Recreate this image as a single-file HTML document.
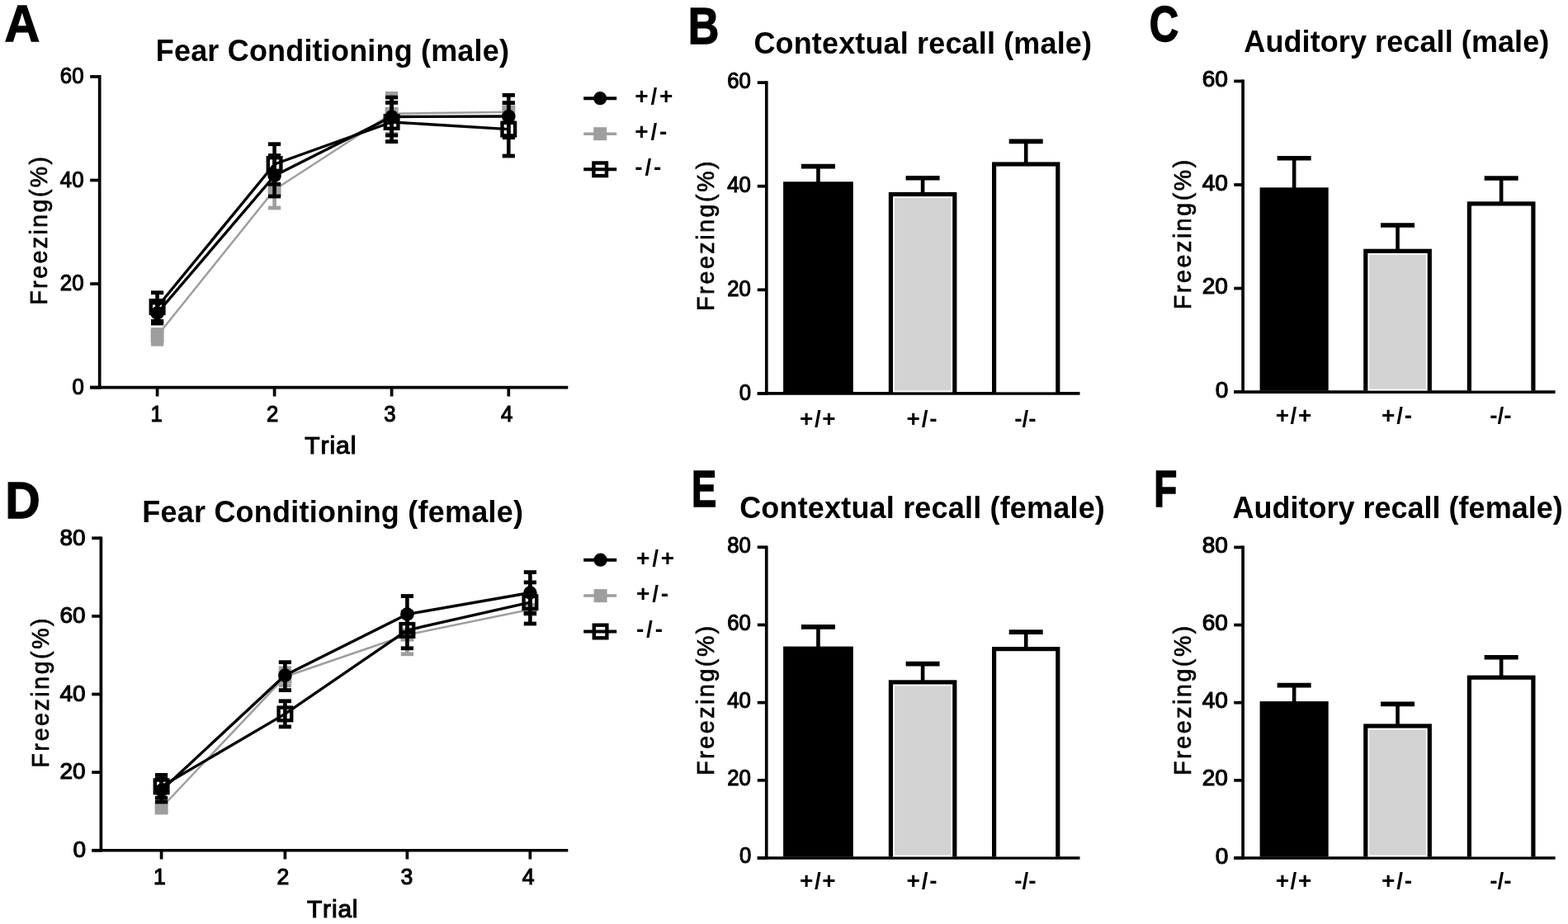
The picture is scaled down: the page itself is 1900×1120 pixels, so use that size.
<!DOCTYPE html>
<html><head><meta charset="utf-8"><title>Fear conditioning figure</title>
<style>
html,body{margin:0;padding:0;background:#fff;}
body{width:1900px;height:1120px;overflow:hidden;}
svg{display:block;}
text{font-family:"Liberation Sans",Arial,sans-serif;font-kerning:none;fill:#000;}
</style></head>
<body>
<svg width="1900" height="1120" viewBox="0 0 1900 1120">
<rect x="0" y="0" width="1900" height="1120" fill="#fff"/>
<text transform="translate(5.52 49.8) scale(0.95 1)" font-size="62.32" font-weight="bold" stroke="#000" stroke-width="1.27">A</text>
<text x="188.8" y="73.7" font-size="36" font-weight="bold" letter-spacing="0.18">Fear Conditioning (male)</text>
<line x1="120.7" y1="91.05" x2="120.7" y2="471.45" stroke="#000" stroke-width="3.7" stroke-linecap="butt"/>
<line x1="109.2" y1="469.6" x2="120.7" y2="469.6" stroke="#000" stroke-width="3.7" stroke-linecap="butt"/>
<text transform="translate(87.57 478.03) scale(0.92 1)" font-size="28" font-weight="normal" stroke="#000" stroke-width="1.15">0</text>
<line x1="109.2" y1="344.03" x2="120.7" y2="344.03" stroke="#000" stroke-width="3.7" stroke-linecap="butt"/>
<text transform="translate(72.85 352.46) scale(0.92 1)" font-size="28" font-weight="normal" stroke="#000" stroke-width="1.15">20</text>
<line x1="109.2" y1="218.47" x2="120.7" y2="218.47" stroke="#000" stroke-width="3.7" stroke-linecap="butt"/>
<text transform="translate(72.85 226.89) scale(0.92 1)" font-size="28" font-weight="normal" stroke="#000" stroke-width="1.15">40</text>
<line x1="109.2" y1="92.9" x2="120.7" y2="92.9" stroke="#000" stroke-width="3.7" stroke-linecap="butt"/>
<text transform="translate(72.85 101.32) scale(0.92 1)" font-size="28" font-weight="normal" stroke="#000" stroke-width="1.15">60</text>
<line x1="109.2" y1="469.6" x2="688.3" y2="469.6" stroke="#000" stroke-width="3.7" stroke-linecap="butt"/>
<line x1="190.6" y1="469.6" x2="190.6" y2="480.5" stroke="#000" stroke-width="3.7" stroke-linecap="butt"/>
<line x1="332.6" y1="469.6" x2="332.6" y2="480.5" stroke="#000" stroke-width="3.7" stroke-linecap="butt"/>
<line x1="474.6" y1="469.6" x2="474.6" y2="480.5" stroke="#000" stroke-width="3.7" stroke-linecap="butt"/>
<line x1="616.3" y1="469.6" x2="616.3" y2="480.5" stroke="#000" stroke-width="3.7" stroke-linecap="butt"/>
<text transform="translate(182.39 511.32) scale(0.92 1)" font-size="28" font-weight="normal" stroke="#000" stroke-width="1.15">1</text>
<text transform="translate(323.1 511.32) scale(0.92 1)" font-size="28" font-weight="normal" stroke="#000" stroke-width="1.15">2</text>
<text transform="translate(465.15 511.32) scale(0.92 1)" font-size="28" font-weight="normal" stroke="#000" stroke-width="1.15">3</text>
<text transform="translate(607 511.32) scale(0.92 1)" font-size="28" font-weight="normal" stroke="#000" stroke-width="1.15">4</text>
<text x="369.18" y="550.32" font-size="30" font-weight="normal" letter-spacing="0.99" stroke="#000" stroke-width="1.15">Trial</text>
<text transform="translate(56.95 369.55) rotate(-90) scale(1 1.03)" font-size="28.5" font-weight="normal" letter-spacing="2.45" stroke="#000" stroke-width="0.7">Freezing(%)</text>
<polyline points="190.6,407 332.6,230 474.6,137.8 616.3,135.8" fill="none" stroke="#9e9e9e" stroke-width="2.5" stroke-linejoin="round"/>
<line x1="190.6" y1="399.5" x2="190.6" y2="417.2" stroke="#9e9e9e" stroke-width="4.6" stroke-linecap="butt"/>
<line x1="183" y1="399.5" x2="198.2" y2="399.5" stroke="#9e9e9e" stroke-width="4.8" stroke-linecap="butt"/>
<line x1="183" y1="417.2" x2="198.2" y2="417.2" stroke="#9e9e9e" stroke-width="4.8" stroke-linecap="butt"/>
<line x1="332.6" y1="208" x2="332.6" y2="252" stroke="#9e9e9e" stroke-width="4.6" stroke-linecap="butt"/>
<line x1="325" y1="208" x2="340.2" y2="208" stroke="#9e9e9e" stroke-width="4.8" stroke-linecap="butt"/>
<line x1="325" y1="252" x2="340.2" y2="252" stroke="#9e9e9e" stroke-width="4.8" stroke-linecap="butt"/>
<line x1="474.6" y1="113.3" x2="474.6" y2="162.3" stroke="#9e9e9e" stroke-width="4.6" stroke-linecap="butt"/>
<line x1="467" y1="113.3" x2="482.2" y2="113.3" stroke="#9e9e9e" stroke-width="4.8" stroke-linecap="butt"/>
<line x1="467" y1="162.3" x2="482.2" y2="162.3" stroke="#9e9e9e" stroke-width="4.8" stroke-linecap="butt"/>
<line x1="616.3" y1="124.8" x2="616.3" y2="146.8" stroke="#9e9e9e" stroke-width="4.6" stroke-linecap="butt"/>
<line x1="608.7" y1="124.8" x2="623.9" y2="124.8" stroke="#9e9e9e" stroke-width="4.8" stroke-linecap="butt"/>
<line x1="608.7" y1="146.8" x2="623.9" y2="146.8" stroke="#9e9e9e" stroke-width="4.8" stroke-linecap="butt"/>
<rect x="182.6" y="399" width="16" height="16" fill="#9e9e9e"/>
<rect x="324.6" y="222" width="16" height="16" fill="#9e9e9e"/>
<rect x="466.6" y="129.8" width="16" height="16" fill="#9e9e9e"/>
<rect x="608.3" y="127.8" width="16" height="16" fill="#9e9e9e"/>
<polyline points="190.6,379.5 332.6,213 474.6,141.5 616.3,141" fill="none" stroke="#000" stroke-width="3.4" stroke-linejoin="round"/>
<line x1="190.6" y1="367" x2="190.6" y2="392" stroke="#000" stroke-width="4.6" stroke-linecap="butt"/>
<line x1="183" y1="367" x2="198.2" y2="367" stroke="#000" stroke-width="4.8" stroke-linecap="butt"/>
<line x1="183" y1="392" x2="198.2" y2="392" stroke="#000" stroke-width="4.8" stroke-linecap="butt"/>
<line x1="332.6" y1="188.5" x2="332.6" y2="238" stroke="#000" stroke-width="4.6" stroke-linecap="butt"/>
<line x1="325" y1="188.5" x2="340.2" y2="188.5" stroke="#000" stroke-width="4.8" stroke-linecap="butt"/>
<line x1="325" y1="238" x2="340.2" y2="238" stroke="#000" stroke-width="4.8" stroke-linecap="butt"/>
<line x1="474.6" y1="118" x2="474.6" y2="164" stroke="#000" stroke-width="4.6" stroke-linecap="butt"/>
<line x1="467" y1="118" x2="482.2" y2="118" stroke="#000" stroke-width="4.8" stroke-linecap="butt"/>
<line x1="467" y1="164" x2="482.2" y2="164" stroke="#000" stroke-width="4.8" stroke-linecap="butt"/>
<line x1="616.3" y1="115.3" x2="616.3" y2="166.7" stroke="#000" stroke-width="4.6" stroke-linecap="butt"/>
<line x1="608.7" y1="115.3" x2="623.9" y2="115.3" stroke="#000" stroke-width="4.8" stroke-linecap="butt"/>
<line x1="608.7" y1="166.7" x2="623.9" y2="166.7" stroke="#000" stroke-width="4.8" stroke-linecap="butt"/>
<circle cx="190.6" cy="379.5" r="8.3" fill="#000"/>
<circle cx="332.6" cy="213" r="8.3" fill="#000"/>
<circle cx="474.6" cy="141.5" r="8.3" fill="#000"/>
<circle cx="616.3" cy="141" r="8.3" fill="#000"/>
<polyline points="190.6,372 332.6,199 474.6,148 616.3,156.6" fill="none" stroke="#000" stroke-width="3.4" stroke-linejoin="round"/>
<line x1="190.6" y1="354.7" x2="190.6" y2="389.3" stroke="#000" stroke-width="4.6" stroke-linecap="butt"/>
<line x1="183" y1="354.7" x2="198.2" y2="354.7" stroke="#000" stroke-width="4.8" stroke-linecap="butt"/>
<line x1="183" y1="389.3" x2="198.2" y2="389.3" stroke="#000" stroke-width="4.8" stroke-linecap="butt"/>
<line x1="332.6" y1="174.7" x2="332.6" y2="223.3" stroke="#000" stroke-width="4.6" stroke-linecap="butt"/>
<line x1="325" y1="174.7" x2="340.2" y2="174.7" stroke="#000" stroke-width="4.8" stroke-linecap="butt"/>
<line x1="325" y1="223.3" x2="340.2" y2="223.3" stroke="#000" stroke-width="4.8" stroke-linecap="butt"/>
<line x1="474.6" y1="124.4" x2="474.6" y2="171.6" stroke="#000" stroke-width="4.6" stroke-linecap="butt"/>
<line x1="467" y1="124.4" x2="482.2" y2="124.4" stroke="#000" stroke-width="4.8" stroke-linecap="butt"/>
<line x1="467" y1="171.6" x2="482.2" y2="171.6" stroke="#000" stroke-width="4.8" stroke-linecap="butt"/>
<line x1="616.3" y1="124.7" x2="616.3" y2="189" stroke="#000" stroke-width="4.6" stroke-linecap="butt"/>
<line x1="608.7" y1="124.7" x2="623.9" y2="124.7" stroke="#000" stroke-width="4.8" stroke-linecap="butt"/>
<line x1="608.7" y1="189" x2="623.9" y2="189" stroke="#000" stroke-width="4.8" stroke-linecap="butt"/>
<rect x="182.8" y="364.2" width="15.6" height="15.6" fill="none" stroke="#000" stroke-width="4.4"/>
<rect x="324.8" y="191.2" width="15.6" height="15.6" fill="none" stroke="#000" stroke-width="4.4"/>
<rect x="466.8" y="140.2" width="15.6" height="15.6" fill="none" stroke="#000" stroke-width="4.4"/>
<rect x="608.5" y="148.8" width="15.6" height="15.6" fill="none" stroke="#000" stroke-width="4.4"/>
<line x1="707.2" y1="119.2" x2="747.2" y2="119.2" stroke="#000" stroke-width="4" stroke-linecap="butt"/>
<circle cx="727.2" cy="119.2" r="8.1" fill="#000"/>
<line x1="707.2" y1="162.2" x2="747.2" y2="162.2" stroke="#9e9e9e" stroke-width="3.5" stroke-linecap="butt"/>
<rect x="719.2" y="154.2" width="16" height="16" fill="#9e9e9e"/>
<line x1="707.2" y1="205.3" x2="747.2" y2="205.3" stroke="#000" stroke-width="4" stroke-linecap="butt"/>
<rect x="719.4" y="197.5" width="15.6" height="15.6" fill="none" stroke="#000" stroke-width="4.4"/>
<text x="769.2" y="126" font-size="28" font-weight="bold" letter-spacing="2.9">+/+</text>
<text x="769.2" y="169" font-size="28" font-weight="bold" letter-spacing="2.9">+/-</text>
<text x="769.2" y="212.1" font-size="28" font-weight="bold" letter-spacing="2.9">-/-</text>
<text transform="translate(6.16 627.8) scale(0.94 1)" font-size="62.61" font-weight="bold" stroke="#000" stroke-width="1.27">D</text>
<text x="172.2" y="633.2" font-size="36" font-weight="bold" letter-spacing="0.23">Fear Conditioning (female)</text>
<line x1="122.4" y1="650.4" x2="122.4" y2="1032.6" stroke="#000" stroke-width="3.7" stroke-linecap="butt"/>
<line x1="111.25" y1="1030.75" x2="122.4" y2="1030.75" stroke="#000" stroke-width="3.7" stroke-linecap="butt"/>
<text x="88.42" y="1038.92" font-size="28" font-weight="normal" stroke="#000" stroke-width="1.15">0</text>
<line x1="111.25" y1="936.12" x2="122.4" y2="936.12" stroke="#000" stroke-width="3.7" stroke-linecap="butt"/>
<text x="72.42" y="944.36" font-size="28" font-weight="normal" stroke="#000" stroke-width="1.15">20</text>
<line x1="111.25" y1="841.5" x2="122.4" y2="841.5" stroke="#000" stroke-width="3.7" stroke-linecap="butt"/>
<text x="72.42" y="849.8" font-size="28" font-weight="normal" stroke="#000" stroke-width="1.15">40</text>
<line x1="111.25" y1="746.88" x2="122.4" y2="746.88" stroke="#000" stroke-width="3.7" stroke-linecap="butt"/>
<text x="72.42" y="755.24" font-size="28" font-weight="normal" stroke="#000" stroke-width="1.15">60</text>
<line x1="111.25" y1="652.25" x2="122.4" y2="652.25" stroke="#000" stroke-width="3.7" stroke-linecap="butt"/>
<text x="72.42" y="660.67" font-size="28" font-weight="normal" stroke="#000" stroke-width="1.15">80</text>
<line x1="111.25" y1="1030.75" x2="688.3" y2="1030.75" stroke="#000" stroke-width="3.7" stroke-linecap="butt"/>
<line x1="195.6" y1="1030.75" x2="195.6" y2="1041.5" stroke="#000" stroke-width="3.7" stroke-linecap="butt"/>
<line x1="345.4" y1="1030.75" x2="345.4" y2="1041.5" stroke="#000" stroke-width="3.7" stroke-linecap="butt"/>
<line x1="493.4" y1="1030.75" x2="493.4" y2="1041.5" stroke="#000" stroke-width="3.7" stroke-linecap="butt"/>
<line x1="642.4" y1="1030.75" x2="642.4" y2="1041.5" stroke="#000" stroke-width="3.7" stroke-linecap="butt"/>
<text transform="translate(185.9 1072.42) scale(0.95 1)" font-size="28" font-weight="normal" stroke="#000" stroke-width="1.15">1</text>
<text transform="translate(335.57 1072.42) scale(0.95 1)" font-size="28" font-weight="normal" stroke="#000" stroke-width="1.15">2</text>
<text transform="translate(485.38 1072.42) scale(0.95 1)" font-size="28" font-weight="normal" stroke="#000" stroke-width="1.15">3</text>
<text transform="translate(632.77 1072.42) scale(0.95 1)" font-size="28" font-weight="normal" stroke="#000" stroke-width="1.15">4</text>
<text x="371.97" y="1112.02" font-size="30" font-weight="normal" letter-spacing="0.81" stroke="#000" stroke-width="1.15">Trial</text>
<text transform="translate(59.05 930.4) rotate(-90) scale(1 1.03)" font-size="28.5" font-weight="normal" letter-spacing="2.58" stroke="#000" stroke-width="0.7">Freezing(%)</text>
<polyline points="195.6,979 345.4,820.3 493.4,769.5 642.4,738.8" fill="none" stroke="#9e9e9e" stroke-width="2.5" stroke-linejoin="round"/>
<line x1="195.6" y1="973" x2="195.6" y2="985" stroke="#9e9e9e" stroke-width="4.6" stroke-linecap="butt"/>
<line x1="188" y1="973" x2="203.2" y2="973" stroke="#9e9e9e" stroke-width="4.8" stroke-linecap="butt"/>
<line x1="188" y1="985" x2="203.2" y2="985" stroke="#9e9e9e" stroke-width="4.8" stroke-linecap="butt"/>
<line x1="345.4" y1="809.8" x2="345.4" y2="830.8" stroke="#9e9e9e" stroke-width="4.6" stroke-linecap="butt"/>
<line x1="337.8" y1="809.8" x2="353" y2="809.8" stroke="#9e9e9e" stroke-width="4.8" stroke-linecap="butt"/>
<line x1="337.8" y1="830.8" x2="353" y2="830.8" stroke="#9e9e9e" stroke-width="4.8" stroke-linecap="butt"/>
<line x1="493.4" y1="746.2" x2="493.4" y2="792.8" stroke="#9e9e9e" stroke-width="4.6" stroke-linecap="butt"/>
<line x1="485.8" y1="746.2" x2="501" y2="746.2" stroke="#9e9e9e" stroke-width="4.8" stroke-linecap="butt"/>
<line x1="485.8" y1="792.8" x2="501" y2="792.8" stroke="#9e9e9e" stroke-width="4.8" stroke-linecap="butt"/>
<line x1="642.4" y1="733.8" x2="642.4" y2="743.8" stroke="#9e9e9e" stroke-width="4.6" stroke-linecap="butt"/>
<line x1="634.8" y1="733.8" x2="650" y2="733.8" stroke="#9e9e9e" stroke-width="4.8" stroke-linecap="butt"/>
<line x1="634.8" y1="743.8" x2="650" y2="743.8" stroke="#9e9e9e" stroke-width="4.8" stroke-linecap="butt"/>
<rect x="187.6" y="971" width="16" height="16" fill="#9e9e9e"/>
<rect x="337.4" y="812.3" width="16" height="16" fill="#9e9e9e"/>
<rect x="485.4" y="761.5" width="16" height="16" fill="#9e9e9e"/>
<rect x="634.4" y="730.8" width="16" height="16" fill="#9e9e9e"/>
<polyline points="195.6,958 345.4,818.6 493.4,744.5 642.4,718.5" fill="none" stroke="#000" stroke-width="3.4" stroke-linejoin="round"/>
<line x1="195.6" y1="944" x2="195.6" y2="972" stroke="#000" stroke-width="4.6" stroke-linecap="butt"/>
<line x1="188" y1="944" x2="203.2" y2="944" stroke="#000" stroke-width="4.8" stroke-linecap="butt"/>
<line x1="188" y1="972" x2="203.2" y2="972" stroke="#000" stroke-width="4.8" stroke-linecap="butt"/>
<line x1="345.4" y1="802.7" x2="345.4" y2="836.6" stroke="#000" stroke-width="4.6" stroke-linecap="butt"/>
<line x1="337.8" y1="802.7" x2="353" y2="802.7" stroke="#000" stroke-width="4.8" stroke-linecap="butt"/>
<line x1="337.8" y1="836.6" x2="353" y2="836.6" stroke="#000" stroke-width="4.8" stroke-linecap="butt"/>
<line x1="493.4" y1="722.5" x2="493.4" y2="766.5" stroke="#000" stroke-width="4.6" stroke-linecap="butt"/>
<line x1="485.8" y1="722.5" x2="501" y2="722.5" stroke="#000" stroke-width="4.8" stroke-linecap="butt"/>
<line x1="485.8" y1="766.5" x2="501" y2="766.5" stroke="#000" stroke-width="4.8" stroke-linecap="butt"/>
<line x1="642.4" y1="693.6" x2="642.4" y2="743.4" stroke="#000" stroke-width="4.6" stroke-linecap="butt"/>
<line x1="634.8" y1="693.6" x2="650" y2="693.6" stroke="#000" stroke-width="4.8" stroke-linecap="butt"/>
<line x1="634.8" y1="743.4" x2="650" y2="743.4" stroke="#000" stroke-width="4.8" stroke-linecap="butt"/>
<circle cx="195.6" cy="958" r="8.3" fill="#000"/>
<circle cx="345.4" cy="818.6" r="8.3" fill="#000"/>
<circle cx="493.4" cy="744.5" r="8.3" fill="#000"/>
<circle cx="642.4" cy="718.5" r="8.3" fill="#000"/>
<polyline points="195.6,953.3 345.4,865.4 493.4,763.9 642.4,730.2" fill="none" stroke="#000" stroke-width="3.4" stroke-linejoin="round"/>
<line x1="195.6" y1="939.4" x2="195.6" y2="967.2" stroke="#000" stroke-width="4.6" stroke-linecap="butt"/>
<line x1="188" y1="939.4" x2="203.2" y2="939.4" stroke="#000" stroke-width="4.8" stroke-linecap="butt"/>
<line x1="188" y1="967.2" x2="203.2" y2="967.2" stroke="#000" stroke-width="4.8" stroke-linecap="butt"/>
<line x1="345.4" y1="849.8" x2="345.4" y2="880.9" stroke="#000" stroke-width="4.6" stroke-linecap="butt"/>
<line x1="337.8" y1="849.8" x2="353" y2="849.8" stroke="#000" stroke-width="4.8" stroke-linecap="butt"/>
<line x1="337.8" y1="880.9" x2="353" y2="880.9" stroke="#000" stroke-width="4.8" stroke-linecap="butt"/>
<line x1="493.4" y1="742" x2="493.4" y2="785.8" stroke="#000" stroke-width="4.6" stroke-linecap="butt"/>
<line x1="485.8" y1="742" x2="501" y2="742" stroke="#000" stroke-width="4.8" stroke-linecap="butt"/>
<line x1="485.8" y1="785.8" x2="501" y2="785.8" stroke="#000" stroke-width="4.8" stroke-linecap="butt"/>
<line x1="642.4" y1="705.9" x2="642.4" y2="756" stroke="#000" stroke-width="4.6" stroke-linecap="butt"/>
<line x1="634.8" y1="705.9" x2="650" y2="705.9" stroke="#000" stroke-width="4.8" stroke-linecap="butt"/>
<line x1="634.8" y1="756" x2="650" y2="756" stroke="#000" stroke-width="4.8" stroke-linecap="butt"/>
<rect x="187.8" y="945.5" width="15.6" height="15.6" fill="none" stroke="#000" stroke-width="4.4"/>
<rect x="337.6" y="857.6" width="15.6" height="15.6" fill="none" stroke="#000" stroke-width="4.4"/>
<rect x="485.6" y="756.1" width="15.6" height="15.6" fill="none" stroke="#000" stroke-width="4.4"/>
<rect x="634.6" y="722.4" width="15.6" height="15.6" fill="none" stroke="#000" stroke-width="4.4"/>
<line x1="707.2" y1="678.7" x2="747.2" y2="678.7" stroke="#000" stroke-width="4" stroke-linecap="butt"/>
<circle cx="727.6" cy="678.7" r="8.1" fill="#000"/>
<line x1="707.2" y1="722.1" x2="747.2" y2="722.1" stroke="#9e9e9e" stroke-width="3.5" stroke-linecap="butt"/>
<rect x="719.6" y="714.1" width="16" height="16" fill="#9e9e9e"/>
<line x1="707.2" y1="765.5" x2="747.2" y2="765.5" stroke="#000" stroke-width="4" stroke-linecap="butt"/>
<rect x="719.8" y="757.7" width="15.6" height="15.6" fill="none" stroke="#000" stroke-width="4.4"/>
<text x="770.9" y="685.5" font-size="28" font-weight="bold" letter-spacing="2.9">+/+</text>
<text x="770.9" y="728.9" font-size="28" font-weight="bold" letter-spacing="2.9">+/-</text>
<text x="770.9" y="772.3" font-size="28" font-weight="bold" letter-spacing="2.9">-/-</text>
<text transform="translate(833.81 53.3) scale(0.84 1)" font-size="62.03" font-weight="bold" stroke="#000" stroke-width="1.43">B</text>
<text x="913.4" y="64.8" font-size="36" font-weight="bold" letter-spacing="0.15">Contextual recall (male)</text>
<line x1="928.8" y1="98.25" x2="928.8" y2="478.75" stroke="#000" stroke-width="3.7" stroke-linecap="butt"/>
<line x1="917.75" y1="476.9" x2="928.8" y2="476.9" stroke="#000" stroke-width="3.7" stroke-linecap="butt"/>
<text transform="translate(895.87 485.18) scale(0.92 1)" font-size="28" font-weight="normal" stroke="#000" stroke-width="1.15">0</text>
<line x1="917.75" y1="351.3" x2="928.8" y2="351.3" stroke="#000" stroke-width="3.7" stroke-linecap="butt"/>
<text transform="translate(881.15 359.09) scale(0.92 1)" font-size="28" font-weight="normal" stroke="#000" stroke-width="1.15">20</text>
<line x1="917.75" y1="225.7" x2="928.8" y2="225.7" stroke="#000" stroke-width="3.7" stroke-linecap="butt"/>
<text transform="translate(881.15 233.01) scale(0.92 1)" font-size="28" font-weight="normal" stroke="#000" stroke-width="1.15">40</text>
<line x1="917.75" y1="100.1" x2="928.8" y2="100.1" stroke="#000" stroke-width="3.7" stroke-linecap="butt"/>
<text transform="translate(881.15 106.93) scale(0.92 1)" font-size="28" font-weight="normal" stroke="#000" stroke-width="1.15">60</text>
<line x1="917.75" y1="476.9" x2="1308.5" y2="476.9" stroke="#000" stroke-width="3.7" stroke-linecap="butt"/>
<text transform="translate(865.35 376.65) rotate(-90) scale(1 1.03)" font-size="28.5" font-weight="normal" letter-spacing="2.61" stroke="#000" stroke-width="0.7">Freezing(%)</text>
<rect x="949.1" y="220.25" width="84.7" height="255.1" fill="#000"/>
<rect x="1076.8" y="232.9" width="82.6" height="242.45" fill="#000"/>
<rect x="1082" y="238.1" width="72.2" height="237.25" fill="#fff"/>
<rect x="1083.8" y="239.9" width="68.6" height="233.65" fill="#d3d3d3"/>
<rect x="1202" y="196.4" width="82.4" height="278.95" fill="#000"/>
<rect x="1207.2" y="201.6" width="72" height="273.75" fill="#fff"/>
<line x1="991.45" y1="221.25" x2="991.45" y2="201.6" stroke="#000" stroke-width="4.6" stroke-linecap="butt"/>
<line x1="970.95" y1="201.6" x2="1011.95" y2="201.6" stroke="#000" stroke-width="5.6" stroke-linecap="butt"/>
<line x1="1118.1" y1="233.9" x2="1118.1" y2="215.7" stroke="#000" stroke-width="4.6" stroke-linecap="butt"/>
<line x1="1097.6" y1="215.7" x2="1138.6" y2="215.7" stroke="#000" stroke-width="5.6" stroke-linecap="butt"/>
<line x1="1243.2" y1="197.4" x2="1243.2" y2="171.4" stroke="#000" stroke-width="4.6" stroke-linecap="butt"/>
<line x1="1222.7" y1="171.4" x2="1263.7" y2="171.4" stroke="#000" stroke-width="5.6" stroke-linecap="butt"/>
<text x="968.95" y="516.8" font-size="28" font-weight="bold" letter-spacing="1.6">+/+</text>
<text x="1098.6" y="516.8" font-size="28" font-weight="bold" letter-spacing="1.8">+/-</text>
<text x="1229.2" y="516.8" font-size="28" font-weight="bold">-/-</text>
<text transform="translate(1392.85 50.18) scale(0.79 1)" font-size="61.97" font-weight="bold" stroke="#000" stroke-width="1.52">C</text>
<text x="1507.3" y="63.4" font-size="36" font-weight="bold" letter-spacing="0.09">Auditory recall (male)</text>
<line x1="1506.1" y1="96.55" x2="1506.1" y2="476.95" stroke="#000" stroke-width="3.7" stroke-linecap="butt"/>
<line x1="1495.25" y1="475.1" x2="1506.1" y2="475.1" stroke="#000" stroke-width="3.7" stroke-linecap="butt"/>
<text x="1472.72" y="481.68" font-size="28" font-weight="normal" stroke="#000" stroke-width="1.15">0</text>
<line x1="1495.25" y1="349.53" x2="1506.1" y2="349.53" stroke="#000" stroke-width="3.7" stroke-linecap="butt"/>
<text x="1456.72" y="356.18" font-size="28" font-weight="normal" stroke="#000" stroke-width="1.15">20</text>
<line x1="1495.25" y1="223.97" x2="1506.1" y2="223.97" stroke="#000" stroke-width="3.7" stroke-linecap="butt"/>
<text x="1456.72" y="230.68" font-size="28" font-weight="normal" stroke="#000" stroke-width="1.15">40</text>
<line x1="1495.25" y1="98.4" x2="1506.1" y2="98.4" stroke="#000" stroke-width="3.7" stroke-linecap="butt"/>
<text x="1456.72" y="105.17" font-size="28" font-weight="normal" stroke="#000" stroke-width="1.15">60</text>
<line x1="1495.25" y1="475.1" x2="1884.6" y2="475.1" stroke="#000" stroke-width="3.7" stroke-linecap="butt"/>
<text transform="translate(1443.05 375.05) rotate(-90) scale(1 1.03)" font-size="28.5" font-weight="normal" letter-spacing="2.62" stroke="#000" stroke-width="0.7">Freezing(%)</text>
<rect x="1526.6" y="227.3" width="83.1" height="246.25" fill="#000"/>
<rect x="1652.2" y="301.7" width="82.7" height="171.85" fill="#000"/>
<rect x="1657.4" y="306.9" width="72.3" height="166.65" fill="#fff"/>
<rect x="1659.2" y="308.7" width="68.7" height="163.05" fill="#d3d3d3"/>
<rect x="1777.8" y="244.3" width="82.7" height="229.25" fill="#000"/>
<rect x="1783" y="249.5" width="72.3" height="224.05" fill="#fff"/>
<line x1="1568.15" y1="228.3" x2="1568.15" y2="191.7" stroke="#000" stroke-width="4.6" stroke-linecap="butt"/>
<line x1="1547.65" y1="191.7" x2="1588.65" y2="191.7" stroke="#000" stroke-width="5.6" stroke-linecap="butt"/>
<line x1="1693.55" y1="302.7" x2="1693.55" y2="273" stroke="#000" stroke-width="4.6" stroke-linecap="butt"/>
<line x1="1673.05" y1="273" x2="1714.05" y2="273" stroke="#000" stroke-width="5.6" stroke-linecap="butt"/>
<line x1="1819.15" y1="245.3" x2="1819.15" y2="216" stroke="#000" stroke-width="4.6" stroke-linecap="butt"/>
<line x1="1798.65" y1="216" x2="1839.65" y2="216" stroke="#000" stroke-width="5.6" stroke-linecap="butt"/>
<text x="1545.65" y="513" font-size="28" font-weight="bold" letter-spacing="1.6">+/+</text>
<text x="1674.05" y="513" font-size="28" font-weight="bold" letter-spacing="1.8">+/-</text>
<text x="1805.15" y="513" font-size="28" font-weight="bold">-/-</text>
<text transform="translate(837.94 614.2) scale(0.72 1)" font-size="62.9" font-weight="bold" stroke="#000" stroke-width="1.66">E</text>
<text x="896.2" y="627.9" font-size="36" font-weight="bold" letter-spacing="0.18">Contextual recall (female)</text>
<line x1="928.75" y1="661.4" x2="928.75" y2="1041.85" stroke="#000" stroke-width="3.7" stroke-linecap="butt"/>
<line x1="917.75" y1="1040" x2="928.75" y2="1040" stroke="#000" stroke-width="3.7" stroke-linecap="butt"/>
<text transform="translate(895.97 1046.42) scale(0.92 1)" font-size="28" font-weight="normal" stroke="#000" stroke-width="1.15">0</text>
<line x1="917.75" y1="945.81" x2="928.75" y2="945.81" stroke="#000" stroke-width="3.7" stroke-linecap="butt"/>
<text transform="translate(881.25 952.3) scale(0.92 1)" font-size="28" font-weight="normal" stroke="#000" stroke-width="1.15">20</text>
<line x1="917.75" y1="851.62" x2="928.75" y2="851.62" stroke="#000" stroke-width="3.7" stroke-linecap="butt"/>
<text transform="translate(881.25 858.17) scale(0.92 1)" font-size="28" font-weight="normal" stroke="#000" stroke-width="1.15">40</text>
<line x1="917.75" y1="757.44" x2="928.75" y2="757.44" stroke="#000" stroke-width="3.7" stroke-linecap="butt"/>
<text transform="translate(881.25 764.05) scale(0.92 1)" font-size="28" font-weight="normal" stroke="#000" stroke-width="1.15">60</text>
<line x1="917.75" y1="663.25" x2="928.75" y2="663.25" stroke="#000" stroke-width="3.7" stroke-linecap="butt"/>
<text transform="translate(881.25 669.92) scale(0.92 1)" font-size="28" font-weight="normal" stroke="#000" stroke-width="1.15">80</text>
<line x1="917.75" y1="1040" x2="1308.5" y2="1040" stroke="#000" stroke-width="3.7" stroke-linecap="butt"/>
<text transform="translate(865.25 939.75) rotate(-90) scale(1 1.03)" font-size="28.5" font-weight="normal" letter-spacing="2.59" stroke="#000" stroke-width="0.7">Freezing(%)</text>
<rect x="949.1" y="783.6" width="84.7" height="254.85" fill="#000"/>
<rect x="1076.8" y="824.3" width="82.6" height="214.15" fill="#000"/>
<rect x="1082" y="829.5" width="72.2" height="208.95" fill="#fff"/>
<rect x="1083.8" y="831.3" width="68.6" height="205.35" fill="#d3d3d3"/>
<rect x="1202" y="784" width="82.4" height="254.45" fill="#000"/>
<rect x="1207.2" y="789.2" width="72" height="249.25" fill="#fff"/>
<line x1="991.45" y1="784.6" x2="991.45" y2="759.9" stroke="#000" stroke-width="4.6" stroke-linecap="butt"/>
<line x1="970.95" y1="759.9" x2="1011.95" y2="759.9" stroke="#000" stroke-width="5.6" stroke-linecap="butt"/>
<line x1="1118.1" y1="825.3" x2="1118.1" y2="804.6" stroke="#000" stroke-width="4.6" stroke-linecap="butt"/>
<line x1="1097.6" y1="804.6" x2="1138.6" y2="804.6" stroke="#000" stroke-width="5.6" stroke-linecap="butt"/>
<line x1="1243.2" y1="785" x2="1243.2" y2="766.1" stroke="#000" stroke-width="4.6" stroke-linecap="butt"/>
<line x1="1222.7" y1="766.1" x2="1263.7" y2="766.1" stroke="#000" stroke-width="5.6" stroke-linecap="butt"/>
<text x="968.95" y="1077" font-size="28" font-weight="bold" letter-spacing="1.6">+/+</text>
<text x="1098.6" y="1077" font-size="28" font-weight="bold" letter-spacing="1.8">+/-</text>
<text x="1229.2" y="1077" font-size="28" font-weight="bold">-/-</text>
<text transform="translate(1398.2 614.4) scale(0.74 1)" font-size="62.03" font-weight="bold" stroke="#000" stroke-width="1.62">F</text>
<text x="1493.4" y="627.6" font-size="36" font-weight="bold" letter-spacing="0.01">Auditory recall (female)</text>
<line x1="1506.1" y1="661.55" x2="1506.1" y2="1041.85" stroke="#000" stroke-width="3.7" stroke-linecap="butt"/>
<line x1="1495.25" y1="1040" x2="1506.1" y2="1040" stroke="#000" stroke-width="3.7" stroke-linecap="butt"/>
<text x="1472.72" y="1046.67" font-size="28" font-weight="normal" stroke="#000" stroke-width="1.15">0</text>
<line x1="1495.25" y1="945.85" x2="1506.1" y2="945.85" stroke="#000" stroke-width="3.7" stroke-linecap="butt"/>
<text x="1456.72" y="952.44" font-size="28" font-weight="normal" stroke="#000" stroke-width="1.15">20</text>
<line x1="1495.25" y1="851.7" x2="1506.1" y2="851.7" stroke="#000" stroke-width="3.7" stroke-linecap="butt"/>
<text x="1456.72" y="858.2" font-size="28" font-weight="normal" stroke="#000" stroke-width="1.15">40</text>
<line x1="1495.25" y1="757.55" x2="1506.1" y2="757.55" stroke="#000" stroke-width="3.7" stroke-linecap="butt"/>
<text x="1456.72" y="763.96" font-size="28" font-weight="normal" stroke="#000" stroke-width="1.15">60</text>
<line x1="1495.25" y1="663.4" x2="1506.1" y2="663.4" stroke="#000" stroke-width="3.7" stroke-linecap="butt"/>
<text x="1456.72" y="669.72" font-size="28" font-weight="normal" stroke="#000" stroke-width="1.15">80</text>
<line x1="1495.25" y1="1040" x2="1884.6" y2="1040" stroke="#000" stroke-width="3.7" stroke-linecap="butt"/>
<text transform="translate(1443.05 939.75) rotate(-90) scale(1 1.03)" font-size="28.5" font-weight="normal" letter-spacing="2.59" stroke="#000" stroke-width="0.7">Freezing(%)</text>
<rect x="1526.6" y="850.1" width="83.1" height="188.35" fill="#000"/>
<rect x="1652.2" y="877.4" width="82.7" height="161.05" fill="#000"/>
<rect x="1657.4" y="882.6" width="72.3" height="155.85" fill="#fff"/>
<rect x="1659.2" y="884.4" width="68.7" height="152.25" fill="#d3d3d3"/>
<rect x="1777.8" y="818.6" width="82.7" height="219.85" fill="#000"/>
<rect x="1783" y="823.8" width="72.3" height="214.65" fill="#fff"/>
<line x1="1568.15" y1="851.1" x2="1568.15" y2="830.6" stroke="#000" stroke-width="4.6" stroke-linecap="butt"/>
<line x1="1547.65" y1="830.6" x2="1588.65" y2="830.6" stroke="#000" stroke-width="5.6" stroke-linecap="butt"/>
<line x1="1693.55" y1="878.4" x2="1693.55" y2="853.4" stroke="#000" stroke-width="4.6" stroke-linecap="butt"/>
<line x1="1673.05" y1="853.4" x2="1714.05" y2="853.4" stroke="#000" stroke-width="5.6" stroke-linecap="butt"/>
<line x1="1819.15" y1="819.6" x2="1819.15" y2="796.8" stroke="#000" stroke-width="4.6" stroke-linecap="butt"/>
<line x1="1798.65" y1="796.8" x2="1839.65" y2="796.8" stroke="#000" stroke-width="5.6" stroke-linecap="butt"/>
<text x="1545.65" y="1077" font-size="28" font-weight="bold" letter-spacing="1.6">+/+</text>
<text x="1674.05" y="1077" font-size="28" font-weight="bold" letter-spacing="1.8">+/-</text>
<text x="1805.15" y="1077" font-size="28" font-weight="bold">-/-</text>
</svg>
</body></html>
